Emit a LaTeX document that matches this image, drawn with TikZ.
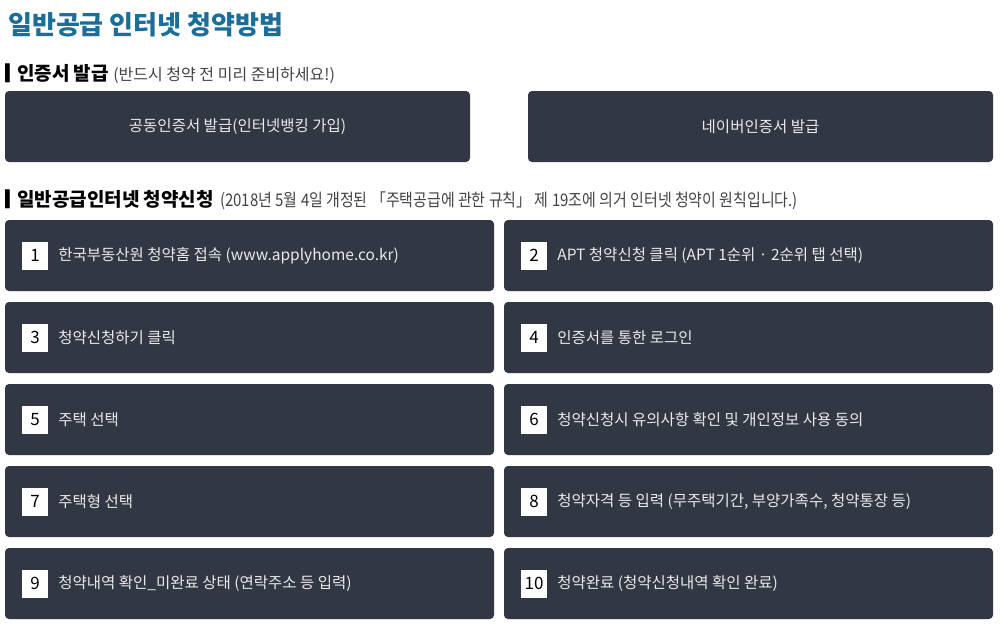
\documentclass[tikz,border=0pt]{standalone}
\usepackage{fontspec}
\setmainfont{Noto Sans CJK KR}
\newfontfamily\condfont[FakeStretch=0.86]{Noto Sans CJK KR}
\usetikzlibrary{positioning, calc}
\definecolor{titleblue}{HTML}{1B6E98}
\definecolor{boxnavy}{HTML}{323744}
\definecolor{boxtext}{HTML}{EAEAEA}
\definecolor{notegray}{HTML}{444444}
\newcommand{\headbar}{▎\kern-7pt}
\tikzset{
	heading/.style={
		anchor=base west,
		inner sep=0pt,
		font=\fontsize{19}{23}\selectfont\bfseries
	},
	certbox/.style={
		fill=boxnavy,
		rounded corners=4pt,
		minimum width=465pt,
		minimum height=71pt,
		text=boxtext,
		font=\fontsize{15.5}{18}\selectfont
	},
	stepbox/.style={
		fill=boxnavy,
		rounded corners=4pt,
		minimum width=489pt,
		minimum height=71pt
	},
	numbox/.style={
		fill=white,
		anchor=west,
		inner sep=0pt,
		minimum width=26pt,
		minimum height=28pt,
		font=\fontsize{17}{20}\selectfont
	},
	steptext/.style={
		text=boxtext,
		inner sep=0pt,
		font=\fontsize{15.5}{18}\selectfont
	}
}

\begin{document}
\begin{tikzpicture}[x=1pt, y=-1pt]
		\useasboundingbox[fill=white] (0,0) rectangle (1000,626);
		
		% title and headings
		\node[anchor=base west, inner sep=0pt, text=titleblue, font=\fontsize{26}{31}\selectfont\bfseries] (title) at (8,35) {일반공급 인터넷 청약방법};
		\node[heading] (certhead) at (5,80) {\headbar 인증서 발급 {\mdseries\color{notegray}\fontsize{16}{19}\selectfont(반드시 청약 전 미리 준비하세요!)}};
		\node[heading] (applyhead) at (5,206) {\headbar 일반공급인터넷 청약신청 \kern2pt{\mdseries\condfont\color{notegray}\fontsize{17.4}{20}\selectfont(2018년 5월 4일 개정된 「주택공급에 관한 규칙」 제 19조에 의거 인터넷 청약이 원칙입니다.)}};
		
		% certificate boxes
		\node[certbox] (joint) at (237.5,126.5) {공동인증서 발급(인터넷뱅킹 가입)};
		\node[certbox] (naver) at (760.5,126.5) {네이버인증서 발급};
		
		% application steps
		\foreach \i/\cx/\cy/\txt in {
			1/249.5/255.5/{한국부동산원 청약홈 접속 (www.applyhome.co.kr)},
			2/748.5/255.5/{APT 청약신청 클릭 (APT 1순위 · 2순위 탭 선택)},
			3/249.5/337.5/{청약신청하기 클릭},
			4/748.5/337.5/{인증서를 통한 로그인},
			5/249.5/419.5/{주택 선택},
			6/748.5/419.5/{청약신청시 유의사항 확인 및 개인정보 사용 동의},
			7/249.5/501.5/{주택형 선택},
			8/748.5/501.5/{청약자격 등 입력 (무주택기간, 부양가족수, 청약통장 등)},
			9/249.5/583.5/{청약내역 확인\_미완료 상태 (연락주소 등 입력)},
			10/748.5/583.5/{청약완료 (청약신청내역 확인 완료)}} {
			\node[stepbox] (step\i) at (\cx,\cy) {};
			\node[numbox] (num\i) at ($(step\i.west)+(17,0)$) {\i};
			\node[steptext, right=10pt of num\i] (txt\i) {\txt};
		}
		
\end{tikzpicture}
\end{document}
